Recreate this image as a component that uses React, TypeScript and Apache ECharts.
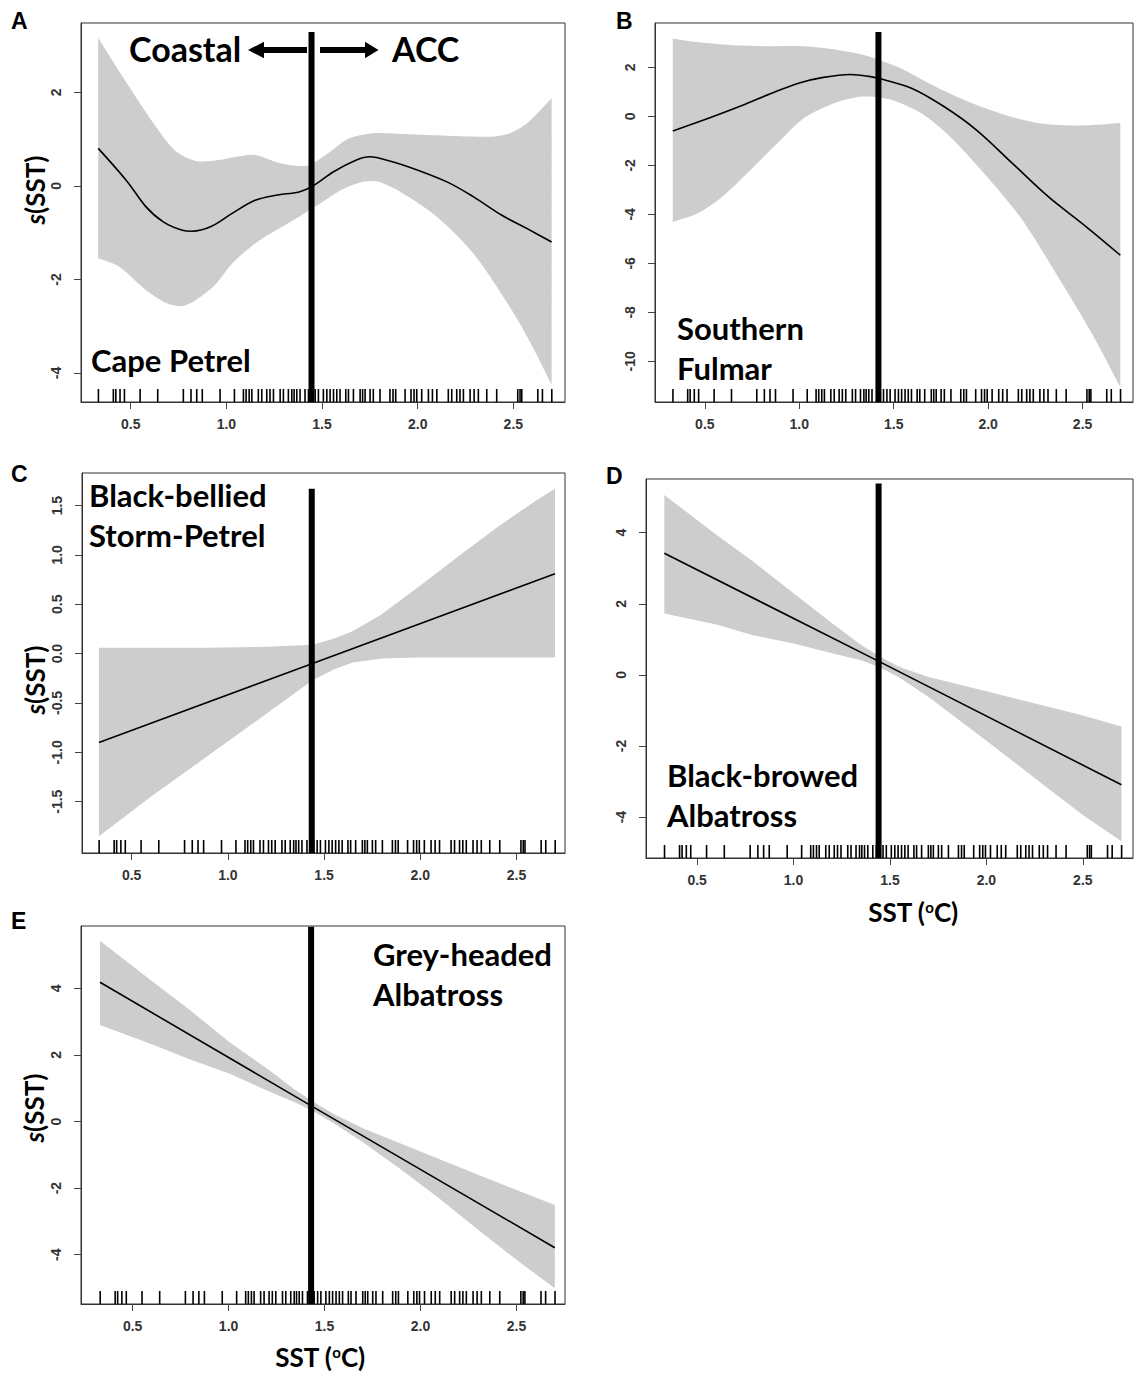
import React, { useEffect, useRef } from "react";
import * as echarts from "echarts";

// ---------- data ----------
const xTickValues = [0.5, 1.0, 1.5, 2.0, 2.5];

const rugX = [
  0.331, 0.409, 0.422, 0.444, 0.467, 0.549, 0.641, 0.775, 0.815, 0.845, 0.874, 0.967,
  1.042, 1.089, 1.103, 1.119, 1.133, 1.167, 1.185, 1.211, 1.228, 1.246, 1.281, 1.298,
  1.324, 1.342, 1.354, 1.368, 1.385, 1.411, 1.429, 1.446, 1.464, 1.481, 1.507, 1.525,
  1.542, 1.56, 1.577, 1.594, 1.624, 1.638, 1.664, 1.699, 1.712, 1.725, 1.751, 1.768,
  1.803, 1.855, 1.871, 1.885, 1.934, 1.965, 1.981, 1.995, 2.021, 2.056, 2.077, 2.1,
  2.16, 2.178, 2.204, 2.221, 2.239, 2.274, 2.295, 2.317, 2.361, 2.413, 2.523, 2.535,
  2.544, 2.628, 2.652, 2.701,
];

// Panel A – Cape Petrel
const aYTicks = [-4, -2, 0, 2];
const aFit = [
  [0.33, 0.8], [0.48, 0.1], [0.58, -0.45], [0.67, -0.77], [0.77, -0.95],
  [0.82, -0.97], [0.92, -0.87], [1.03, -0.59], [1.15, -0.31], [1.26, -0.2], [1.38, -0.13],
  [1.45, -0.01], [1.56, 0.3], [1.68, 0.55], [1.75, 0.62], [1.81, 0.58], [1.95, 0.41],
  [2.15, 0.09], [2.29, -0.23], [2.44, -0.63], [2.57, -0.91], [2.7, -1.2],
];
const aUpper = [
  [0.33, 3.16], [0.48, 2.19], [0.62, 1.33], [0.73, 0.76], [0.84, 0.53], [0.96, 0.55],
  [1.05, 0.62], [1.15, 0.66], [1.26, 0.51], [1.34, 0.44], [1.43, 0.44], [1.53, 0.69],
  [1.64, 1.01], [1.76, 1.12], [1.87, 1.12], [2.1, 1.08], [2.38, 1.05], [2.48, 1.12],
  [2.57, 1.33], [2.7, 1.87],
];
const aLower = [
  [0.33, -1.55], [0.44, -1.73], [0.58, -2.23], [0.69, -2.51], [0.77, -2.57], [0.84, -2.44],
  [0.94, -2.12], [1.03, -1.66], [1.15, -1.23], [1.26, -0.95], [1.38, -0.66], [1.49, -0.38],
  [1.6, -0.09], [1.72, 0.09], [1.79, 0.09], [1.91, -0.13], [2.1, -0.66], [2.29, -1.44],
  [2.48, -2.58], [2.59, -3.36], [2.7, -4.25],
];

// Panel B – Southern Fulmar
const bYTicks = [-10, -8, -6, -4, -2, 0, 2];
const bFit = [
  [0.33, -0.6], [0.53, -0.05], [0.7, 0.45], [0.85, 0.93], [1.0, 1.36], [1.12, 1.58],
  [1.27, 1.71], [1.37, 1.63], [1.44, 1.51], [1.6, 1.13], [1.77, 0.38], [1.94, -0.57],
  [2.13, -1.93], [2.32, -3.29], [2.51, -4.45], [2.7, -5.67],
];
const bUpper = [
  [0.33, 3.17], [0.46, 3.03], [0.65, 2.9], [0.84, 2.86], [1.02, 2.86], [1.16, 2.76],
  [1.31, 2.56], [1.42, 2.31], [1.54, 1.95], [1.69, 1.33], [1.88, 0.65], [2.07, 0.11],
  [2.26, -0.27], [2.45, -0.37], [2.6, -0.33], [2.7, -0.27],
];
const bLower = [
  [0.33, -4.31], [0.46, -3.97], [0.59, -3.29], [0.74, -2.2], [0.9, -0.98], [1.02, -0.1],
  [1.18, 0.52], [1.31, 0.79], [1.4, 0.79], [1.5, 0.65], [1.65, 0.11], [1.8, -0.84],
  [1.98, -2.34], [2.17, -4.11], [2.36, -6.42], [2.55, -8.87], [2.7, -11.05],
];

// Panel C – Black-bellied Storm-Petrel
const cYTicks = [-1.5, -1.0, -0.5, 0.0, 0.5, 1.0, 1.5];
const cFit = [[0.33, -0.9], [1.44, -0.1], [2.7, 0.81]];
const cUpper = [
  [0.33, 0.06], [0.6, 0.06], [0.9, 0.06], [1.2, 0.07], [1.44, 0.09], [1.55, 0.15],
  [1.65, 0.23], [1.8, 0.4], [2.0, 0.69], [2.2, 0.99], [2.4, 1.28], [2.6, 1.55], [2.7, 1.67],
];
const cLower = [
  [0.33, -1.85], [0.6, -1.45], [0.9, -1.03], [1.2, -0.61], [1.44, -0.27], [1.55, -0.16],
  [1.65, -0.09], [1.8, -0.05], [2.0, -0.04], [2.4, -0.04], [2.7, -0.04],
];

// Panel D – Black-browed Albatross
const dYTicks = [-4, -2, 0, 2, 4];
const dFit = [[0.33, 3.42], [1.45, 0.36], [2.7, -3.09]];
const dUpper = [
  [0.33, 5.06], [0.6, 3.94], [0.78, 3.23], [1.0, 2.3], [1.2, 1.45], [1.35, 0.84],
  [1.45, 0.5], [1.55, 0.22], [1.7, -0.06], [2.0, -0.46], [2.3, -0.87], [2.5, -1.14], [2.7, -1.45],
];
const dLower = [
  [0.33, 1.73], [0.6, 1.42], [0.78, 1.13], [1.0, 0.88], [1.2, 0.61], [1.35, 0.41],
  [1.45, 0.21], [1.55, -0.08], [1.7, -0.62], [2.0, -1.85], [2.3, -3.11], [2.5, -3.94], [2.7, -4.68],
];

// Panel E – Grey-headed Albatross
const eYTicks = [-4, -2, 0, 2, 4];
const eFit = [[0.33, 4.18], [1.44, 0.44], [2.7, -3.79]];
const eUpper = [
  [0.33, 5.43], [0.6, 4.22], [0.8, 3.34], [1.0, 2.4], [1.2, 1.59], [1.35, 0.94],
  [1.45, 0.56], [1.55, 0.22], [1.7, -0.2], [1.9, -0.67], [2.1, -1.13], [2.3, -1.6],
  [2.5, -2.06], [2.7, -2.51],
];
const eLower = [
  [0.33, 2.9], [0.6, 2.32], [0.8, 1.86], [1.0, 1.45], [1.2, 0.93], [1.35, 0.56],
  [1.45, 0.28], [1.55, -0.06], [1.7, -0.62], [1.9, -1.45], [2.1, -2.32], [2.3, -3.25],
  [2.5, -4.15], [2.7, -5.01],
];

// frontier line (x, top value) per panel
const vLineA = [1.445, 3.29];
const vLineB = [1.419, 3.44];
const vLineC = [1.436, 1.67];
const vLineD = [1.441, 5.38];
const vLineE = [1.43, 5.85];

// ---------- chart ----------
const TICK_FONT = {
  fontFamily: "'Liberation Sans Narrow', 'Liberation Sans', Arial, sans-serif",
  fontSize: 14,
  fontWeight: "bold" as const,
  color: "#333",
};

export default function App() {
  const ref = useRef<HTMLDivElement>(null);

  useEffect(() => {
    if (!ref.current) return;
    const chart = echarts.init(ref.current, null, { renderer: "svg" });

    const panels = [
      { grid: { left: 81, top: 23, width: 484, height: 379 }, x: [0.24, 2.77], y: [-4.62, 3.48], yTicks: aYTicks, fit: aFit, upper: aUpper, lower: aLower, vline: vLineA, smooth: true, dec: 0 },
      { grid: { left: 655, top: 23, width: 478, height: 379 }, x: [0.236, 2.767], y: [-11.66, 3.81], yTicks: bYTicks, fit: bFit, upper: bUpper, lower: bLower, vline: vLineB, smooth: true, dec: 0 },
      { grid: { left: 82, top: 473, width: 483, height: 380 }, x: [0.242, 2.752], y: [-2.02, 1.83], yTicks: cYTicks, fit: cFit, upper: cUpper, lower: cLower, vline: vLineC, smooth: false, dec: 1 },
      { grid: { left: 646, top: 479, width: 487, height: 379 }, x: [0.235, 2.76], y: [-5.15, 5.51], yTicks: dYTicks, fit: dFit, upper: dUpper, lower: dLower, vline: vLineD, smooth: false, dec: 0 },
      { grid: { left: 81, top: 926, width: 484, height: 378 }, x: [0.231, 2.753], y: [-5.48, 5.87], yTicks: eYTicks, fit: eFit, upper: eUpper, lower: eLower, vline: vLineE, smooth: false, dec: 0 },
    ];

    const grids: any[] = [];
    const xAxes: any[] = [];
    const yAxes: any[] = [];
    const series: any[] = [];

    panels.forEach((p, i) => {
      grids.push({ ...p.grid, show: true, borderColor: "#333", borderWidth: 1, backgroundColor: "#fff", containLabel: false });
      xAxes.push({
        type: "value", gridIndex: i, min: p.x[0], max: p.x[1],
        axisLine: { show: true, onZero: false, lineStyle: { color: "#333", width: 1 } },
        axisTick: { show: true, length: 7, customValues: xTickValues, lineStyle: { color: "#444" } },
        axisLabel: { ...TICK_FONT, margin: 15, customValues: xTickValues, formatter: (v: number) => v.toFixed(1) },
        splitLine: { show: false },
      });
      yAxes.push({
        type: "value", gridIndex: i, min: p.y[0], max: p.y[1],
        axisLine: { show: true, onZero: false, lineStyle: { color: "#333", width: 1 } },
        axisTick: { show: true, length: 7, customValues: p.yTicks, lineStyle: { color: "#444" } },
        axisLabel: { ...TICK_FONT, rotate: 90, margin: 18, customValues: p.yTicks, formatter: (v: number) => v.toFixed(p.dec) },
        splitLine: { show: false },
      });
      const yMin = p.y[0];
      series.push({
        type: "custom", xAxisIndex: i, yAxisIndex: i, silent: true, clip: true, z: 1,
        data: [[p.upper[0][0], p.upper[0][1]]],
        renderItem: (_params: any, api: any) => {
          const up = p.upper.map((d) => api.coord(d));
          const lo = p.lower.slice().reverse().map((d) => api.coord(d));
          // corners repeated so the smoothed outline keeps sharp vertical ends
          const pts = [up[0], ...up, up[up.length - 1], lo[0], ...lo, lo[lo.length - 1]];
          return {
            type: "polygon",
            shape: { points: pts, smooth: p.smooth ? 0.3 : 0 },
            style: { fill: "#cdcdcd", stroke: null },
          };
        },
      });
      series.push({
        type: "line", xAxisIndex: i, yAxisIndex: i, data: p.fit, symbol: "none", silent: true,
        smooth: p.smooth ? 0.35 : false, lineStyle: { color: "#000", width: 1.6 }, z: 3,
      });
      series.push({
        type: "custom", xAxisIndex: i, yAxisIndex: i, silent: true, z: 3,
        data: rugX.map((v) => [v, yMin]),
        renderItem: (_params: any, api: any) => {
          const pt = api.coord([api.value(0), api.value(1)]);
          return { type: "line", shape: { x1: pt[0], y1: pt[1], x2: pt[0], y2: pt[1] - 13 }, style: { stroke: "#000", lineWidth: 1.6 } };
        },
      });
      series.push({
        type: "line", xAxisIndex: i, yAxisIndex: i, symbol: "none", silent: true,
        data: [[p.vline[0], yMin], [p.vline[0], p.vline[1]]],
        lineStyle: { color: "#000", width: 6, cap: "butt" }, z: 4,
      });
    });

    const LATO = "Lato, 'Open Sans', sans-serif";
    const label = (text: string, x: number, y: number, size = 31) => ({
      type: "text", x, y, z: 100,
      style: { text, fill: "#000", fontFamily: LATO, fontWeight: "bold", fontSize: size, align: "left", verticalAlign: "middle", textAlign: "left", textVerticalAlign: "middle" },
    });
    const letter = (text: string, x: number, y: number) => ({
      type: "text", x, y, z: 100,
      style: { text, fill: "#000", fontFamily: "'Liberation Sans', Arial, sans-serif", fontWeight: "bold", fontSize: 23, align: "left", verticalAlign: "middle", textAlign: "left", textVerticalAlign: "middle" },
    });
    const yTitle = (x: number, y: number) => ({
      type: "text", x, y, rotation: Math.PI / 2, z: 100,
      style: {
        text: "{i|s}{n|(SST)}", align: "center", verticalAlign: "middle", textAlign: "center", textVerticalAlign: "middle",
        rich: {
          i: { fontFamily: LATO, fontWeight: "bold", fontStyle: "italic", fontSize: 26, fill: "#000" },
          n: { fontFamily: LATO, fontWeight: "bold", fontSize: 26, fill: "#000" },
        },
      },
    });
    const xTitle = (x: number, y: number) => ({
      type: "text", x, y, z: 100,
      style: {
        text: "{n|SST (}{s|o}{n|C)}", align: "center", verticalAlign: "middle", textAlign: "center", textVerticalAlign: "middle",
        rich: {
          n: { fontFamily: LATO, fontWeight: "bold", fontSize: 26, fill: "#000" },
          s: { fontFamily: LATO, fontWeight: "bold", fontSize: 15, lineHeight: 12, fill: "#000", verticalAlign: "top" },
        },
      },
    });

    const graphic: any[] = [
      letter("A", 11, 21), letter("B", 616, 21), letter("C", 11, 474), letter("D", 606, 476), letter("E", 11, 921),
      label("Coastal", 129, 48, 34), label("ACC", 392, 48, 34),
      {
        type: "polygon", z: 100,
        shape: { points: [[248, 50], [264, 41.7], [264, 47], [307, 47], [307, 53], [264, 53], [264, 58.3]] },
        style: { fill: "#000" },
      },
      {
        type: "polygon", z: 100,
        shape: { points: [[320, 47], [365, 47], [365, 41.7], [378.5, 50], [365, 58.3], [365, 53], [320, 53]] },
        style: { fill: "#000" },
      },
      label("Cape Petrel", 91, 360),
      label("Southern", 677, 328), label("Fulmar", 677, 368),
      label("Black-bellied", 89, 495), label("Storm-Petrel", 89, 535),
      label("Black-browed", 667, 775), label("Albatross", 667, 815),
      label("Grey-headed", 373, 954), label("Albatross", 373, 994),
      yTitle(35, 190), yTitle(35, 680), yTitle(34, 1108),
      xTitle(913, 912), xTitle(320, 1357),
    ];

    chart.setOption({
      animation: false,
      backgroundColor: "#fff",
      grid: grids,
      xAxis: xAxes,
      yAxis: yAxes,
      series,
      graphic,
    });

    return () => chart.dispose();
  }, []);

  return (
    <div
      ref={ref}
      style={{ position: "absolute", left: 0, top: 0, width: 1134, height: 1374, background: "#fff" }}
    />
  );
}
